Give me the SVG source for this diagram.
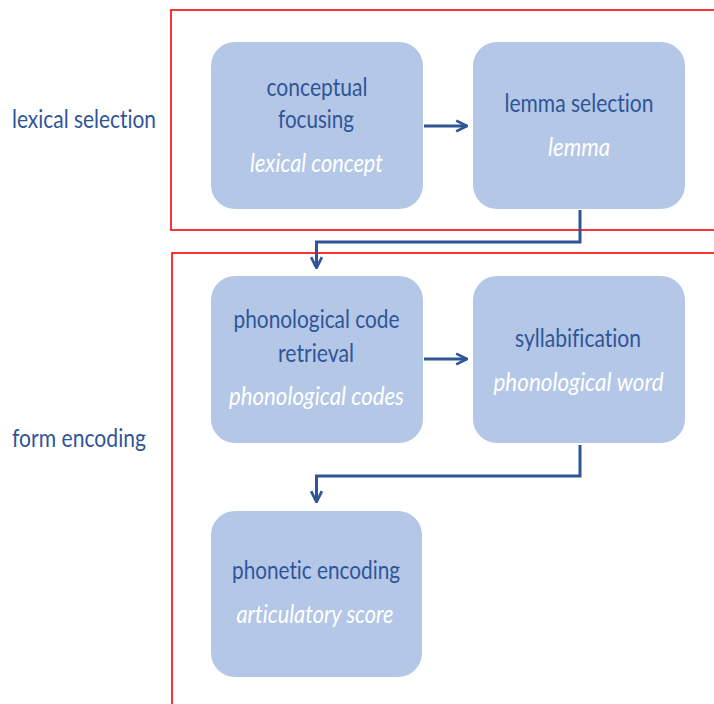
<svg xmlns="http://www.w3.org/2000/svg" width="714" height="704" viewBox="0 0 714 704">
<style>
.frame{fill:none;stroke:#ff0000;stroke-width:1.6}
.node{fill:#b4c7e7}
text{font-variant-ligatures:none}
.t{font-family:Lato,"Open Sans","Liberation Sans",sans-serif;font-size:25px;fill:#2f5597;text-anchor:middle}
.i{font-family:Lato,"Open Sans","Liberation Sans",sans-serif;font-size:25px;fill:#ffffff;font-style:italic;text-anchor:middle}
.lbl{font-family:Lato,"Open Sans","Liberation Sans",sans-serif;font-size:25px;fill:#2f5597}
.c{fill:none;stroke:#2f5597;stroke-width:3}
</style>
<defs>
<marker id="ah" viewBox="0 0 10 10" refX="9" refY="5" markerWidth="4.5" markerHeight="4.5" orient="auto" markerUnits="strokeWidth">
<path d="M1,1 L9,5 L1,9" fill="none" stroke="#2f5597" stroke-width="2"/>
</marker>
</defs>
<rect width="714" height="704" fill="#ffffff"/>
<g id="frames">
<rect class="frame" x="171" y="10" width="560" height="220"/>
<rect class="frame" x="172" y="253" width="560" height="470"/>
</g>
<text class="lbl" x="12" y="128" textLength="144" lengthAdjust="spacingAndGlyphs">lexical selection</text>
<text class="lbl" x="12" y="447" textLength="134" lengthAdjust="spacingAndGlyphs">form encoding</text>
<g id="connectors">
<line class="c" x1="424" y1="126" x2="467" y2="126" marker-end="url(#ah)"/>
<line class="c" x1="424" y1="359" x2="467" y2="359" marker-end="url(#ah)"/>
<polyline class="c" points="580,210 580,242 316.5,242 316.5,268" marker-end="url(#ah)"/>
<polyline class="c" points="580,445 580,476 316.5,476 316.5,502" marker-end="url(#ah)"/>
</g>
<g id="n1">
<rect class="node" x="211" y="42" width="212" height="167" rx="24"/>
<text class="t" x="317" y="96" textLength="101" lengthAdjust="spacingAndGlyphs">conceptual</text>
<text class="t" x="316" y="128" textLength="76" lengthAdjust="spacingAndGlyphs">focusing</text>
<text class="i" x="316.5" y="172" textLength="133" lengthAdjust="spacingAndGlyphs">lexical concept</text>
</g>
<g id="n2">
<rect class="node" x="473" y="42" width="212" height="167" rx="24"/>
<text class="t" x="579" y="112" textLength="149" lengthAdjust="spacingAndGlyphs">lemma selection</text>
<text class="i" x="579" y="156" textLength="62" lengthAdjust="spacingAndGlyphs">lemma</text>
</g>
<g id="n3">
<rect class="node" x="211" y="276" width="212" height="167" rx="24"/>
<text class="t" x="316.5" y="328" textLength="166" lengthAdjust="spacingAndGlyphs">phonological code</text>
<text class="t" x="316" y="362" textLength="76" lengthAdjust="spacingAndGlyphs">retrieval</text>
<text class="i" x="316.5" y="405" textLength="175" lengthAdjust="spacingAndGlyphs">phonological codes</text>
</g>
<g id="n4">
<rect class="node" x="473" y="276" width="212" height="167" rx="24"/>
<text class="t" x="578" y="347" textLength="126" lengthAdjust="spacingAndGlyphs">syllabification</text>
<text class="i" x="578.5" y="391" textLength="170" lengthAdjust="spacingAndGlyphs">phonological word</text>
</g>
<g id="n5">
<rect class="node" x="211" y="511" width="211" height="166" rx="24"/>
<text class="t" x="316" y="579" textLength="168" lengthAdjust="spacingAndGlyphs">phonetic encoding</text>
<text class="i" x="315" y="623" textLength="157" lengthAdjust="spacingAndGlyphs">articulatory score</text>
</g>
</svg>
